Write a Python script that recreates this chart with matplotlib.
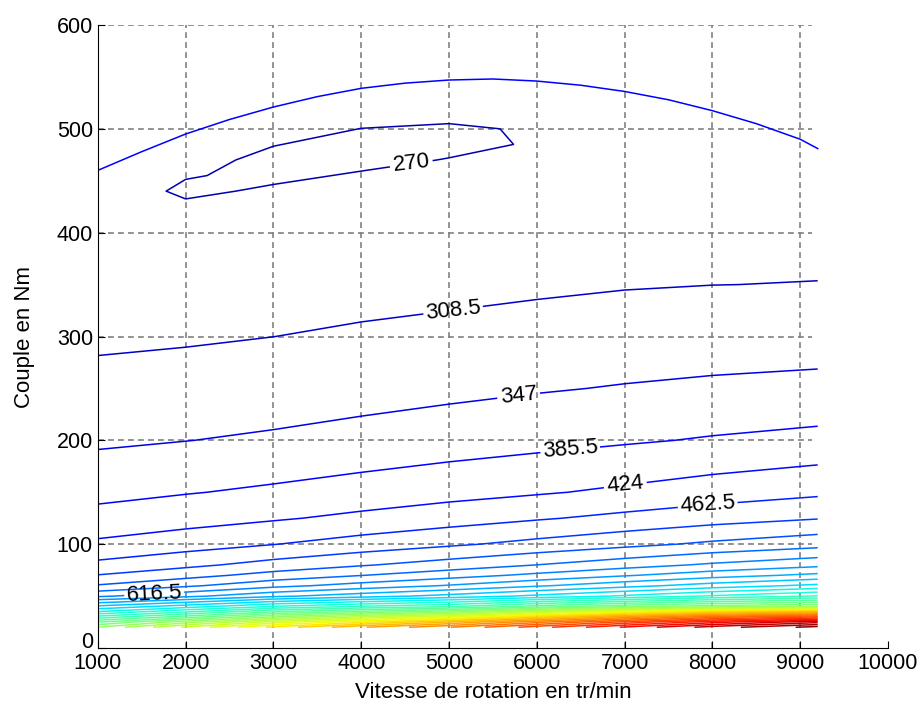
import numpy as np
import matplotlib
matplotlib.use("Agg")
import matplotlib.pyplot as plt
from matplotlib import colors

plt.rcParams['font.family'] = ['Liberation Sans', 'DejaVu Sans']

# --- grid of the map (speed in tr/min, torque in Nm) ---
speeds = [1000, 2000, 3000, 4000, 5000, 6000, 7000, 8000, 9200]
torques = [20, 25, 30, 35, 40, 50, 60, 70, 80, 100, 125, 150, 200, 250,
           300, 350, 400, 425, 440, 455, 470, 485, 500, 515, 550]

# specific consumption read column by column (one list per speed)
z_1000 = [1080, 1000, 900, 810, 740, 610, 543, 502.5, 472, 431, 398, 375, 341, 318,
          303, 294, 287, 285, 284, 283.5, 284, 285, 287, 289, 294]
z_2000 = [1200, 1100, 980, 880, 790, 645, 571.5, 526, 492, 445.6, 408.8, 383.5, 346.4, 321.6,
          305.1, 295, 282, 274, 266, 271.3, 278, 283, 288, 292, 298]
z_3000 = [1320, 1210, 1080, 960, 850, 685, 605, 553.6, 515, 461.5, 419.9, 391.8, 352.4, 326.2,
          308.4, 298, 287, 279, 273, 266, 264, 270.8, 276, 281, 290]
z_4000 = [1420, 1300, 1160, 1010, 890, 715, 631.9, 577.1, 536.1, 478.6, 432.4, 401.4, 359.9, 332.2,
          312.6, 298, 291, 284, 278, 272, 265, 263, 269.8, 276, 288]
z_5000 = [1500, 1390, 1230, 1060, 920, 745, 658.4, 600, 556.3, 495, 445.2, 411.2, 367.3, 338.2,
          316.9, 300, 291, 286, 283, 277, 270.8, 265, 267.5, 275, 287]
z_6000 = [1600, 1490, 1340, 1160, 980, 780, 688.7, 625.6, 578.3, 512, 458.7, 420.3, 374.3, 344.1,
          320.9, 303.5, 292, 286, 282, 277, 273, 271.8, 271.8, 275, 285]
z_7000 = [1700, 1590, 1440, 1260, 1030, 815, 719, 651.3, 600.4, 529.1, 472.1, 430.8, 381.4, 349.2,
          324.7, 306.6, 296, 292, 290, 288, 287, 287, 288, 290, 294]
z_8000 = [1790, 1680, 1520, 1330, 1060, 852, 749.8, 677.2, 622.7, 546.5, 485.5, 442.4, 388.6, 353.5,
          327.5, 308.3, 300, 296, 294, 293, 292, 292, 293, 294, 297]
z_9200 = [1864, 1760, 1580, 1380, 1080, 889, 780.6, 703.3, 645.2, 564, 499, 455.2, 396, 357.4,
          329.6, 309.1, 301, 298, 297, 296, 295, 295, 295, 296, 298]

# full load torque curve
fl_speed = [1000, 1500, 2000, 2500, 3000, 3500, 4000, 4500, 5000, 5500,
            6000, 6500, 7000, 7500, 8000, 8500, 9000, 9200]
fl_torque = [460, 478, 495, 509, 521, 531, 539, 544, 547, 548,
             546, 542, 536, 528, 517.5, 505, 490, 481]

# contour levels and where their labels sit
level_start, level_step = 270, 38.5
label_levels = [270, 308.5, 347, 385.5, 424, 462.5, 616.5]
label_pos = [(4577, 464), (5050, 324), (5800, 240), (6390, 186),
             (7015, 154), (7950, 136), (1650, 45)]

# grid drawn by hand: horizontal dashes stop short of the right edge
grid_x = [2000, 3000, 4000, 5000, 6000, 7000, 8000, 9000]
grid_y = [100, 200, 300, 400, 500, 600]
grid_x_end = 9130

Z = np.array([z_1000, z_2000, z_3000, z_4000, z_5000, z_6000,
              z_7000, z_8000, z_9200]).T
X, Y = np.meshgrid(speeds, torques)
levels = np.arange(level_start, Z.max(), level_step)

fig = plt.figure(figsize=(9.23, 7.10), dpi=100)
ax = fig.add_axes([0.106, 0.0873, 0.856, 0.8775])

dash = (0, (3.5, 2.5))
ax.hlines(grid_y, 1000, grid_x_end, color='#808080', linestyle=dash, linewidth=1.2, zorder=0)
ax.vlines(grid_x, 0, 600, color='#808080', linestyle=dash, linewidth=1.2, zorder=0)

norm = colors.Normalize(vmin=200, vmax=Z.max())
cs = ax.contour(X, Y, Z, levels=levels, cmap='jet', norm=norm, linewidths=1.1)


def nearest_on_level(lev, px, py):
    # closest point on the drawn contour of this level (axis-scaled distance)
    i = int(np.argmin(np.abs(cs.levels - lev)))
    best, best_d = None, np.inf
    for seg in cs.allsegs[i]:
        if len(seg) < 2:
            continue
        a = seg[:-1] / [9000.0, 600.0]
        b = seg[1:] / [9000.0, 600.0]
        p = np.array([px / 9000.0, py / 600.0])
        ab = b - a
        t = np.clip(((p - a) * ab).sum(1) / np.maximum((ab * ab).sum(1), 1e-12), 0, 1)
        q = a + ab * t[:, None]
        d = ((q - p) ** 2).sum(1)
        k = np.argmin(d)
        if d[k] < best_d:
            best_d, best = d[k], q[k] * [9000.0, 600.0]
    return tuple(best)


snapped = [nearest_on_level(lev, x, y) for lev, (x, y) in zip(label_levels, label_pos)]
ax.clabel(cs, manual=snapped, inline=True, fmt='%g', fontsize=16, colors='k')

ax.plot(fl_speed, fl_torque, color=(0, 0, 1), linewidth=1.1)

ax.set_xlim(1000, 10000)
ax.set_ylim(0, 600)
ax.set_xticks(np.arange(1000, 10001, 1000))
ax.set_yticks(np.arange(0, 601, 100))
ax.spines['top'].set_visible(False)
ax.spines['right'].set_visible(False)
ax.tick_params(direction='in', length=5, labelsize=15.5, top=False, right=False)
ax.get_yticklabels()[0].set_verticalalignment('baseline')
ax.set_xlabel('Vitesse de rotation en tr/min', fontsize=16, labelpad=6)
ax.set_ylabel('Couple en Nm', fontsize=16, labelpad=16)

fig.savefig('out.png', dpi=100)
